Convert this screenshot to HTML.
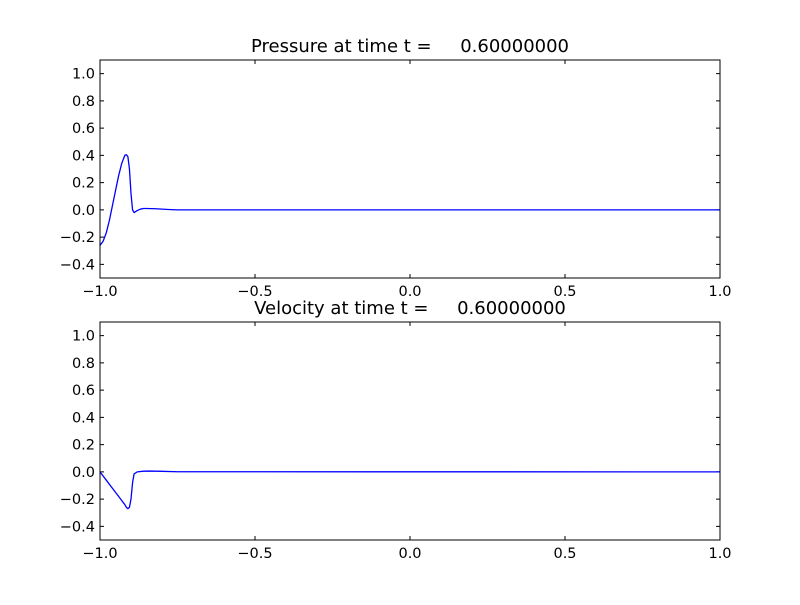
<!DOCTYPE html>
<html><head><meta charset="utf-8"><style>body{margin:0;background:#fff}svg text{font-family:"DejaVu Sans","Liberation Sans",sans-serif;white-space:pre}</style></head>
<body>
<svg id="chart" width="800" height="600" xmlns="http://www.w3.org/2000/svg"></svg>
<script>
const xTicks=[-1,-0.5,0,0.5,1];
const xTickLabels=["\u22121.0","\u22120.5","0.0","0.5","1.0"];
const yTicks=[-0.4,-0.2,0,0.2,0.4,0.6,0.8,1.0];
const yTickLabels=["\u22120.4","\u22120.2","0.0","0.2","0.4","0.6","0.8","1.0"];
const pressureX=[-1,-0.99,-0.98,-0.97,-0.96,-0.95,-0.94,-0.93,-0.92,-0.915,-0.91,-0.905,-0.9,-0.895,-0.89,-0.88,-0.87,-0.86,-0.85,-0.82,-0.78,-0.75,1];
const pressureY=[-0.26,-0.23,-0.17,-0.08,0.03,0.14,0.25,0.34,0.4,0.405,0.39,0.3,0.12,0.0,-0.02,-0.005,0.005,0.01,0.01,0.008,0.003,0,0];
const velocityX=[-1,-0.98,-0.96,-0.94,-0.93,-0.92,-0.915,-0.91,-0.905,-0.9,-0.895,-0.89,-0.88,-0.86,-0.84,-0.8,-0.75,1];
const velocityY=[0,-0.06,-0.12,-0.18,-0.21,-0.24,-0.26,-0.27,-0.26,-0.2,-0.08,-0.015,0,0.005,0.006,0.004,0.001,0];
const svg=document.getElementById('chart');
const NS='http://www.w3.org/2000/svg';
function mk(t,a,p){const e=document.createElementNS(NS,t);for(const k in a)e.setAttribute(k,a[k]);(p||svg).appendChild(e);return e;}
function panel(top,title,xs,ys,nm){
  const L=100,R=720,T=top,B=top+218;
  const sx=v=>L+(v+1)/2*(R-L);
  const sy=v=>B-(v+0.5)/1.6*(B-T);
  const g=mk('g',{});
  
  
  const t=mk('text',{x:410,y:T-8,'text-anchor':'middle','font-size':18},g);t.textContent=title;
  
  
  xTicks.forEach((v,i)=>{const x=sx(v);
    mk('line',{x1:x,x2:x,y1:B,y2:B-4,stroke:'#000'},g);mk('line',{x1:x,x2:x,y1:T,y2:T+4,stroke:'#000'},g);
    const l=mk('text',{x:x,y:B+18,'text-anchor':'middle','font-size':14.5},g);l.textContent=xTickLabels[i];
    
    });
  yTicks.forEach((v,i)=>{const y=sy(v);
    mk('line',{x1:L,x2:L+4,y1:y,y2:y,stroke:'#000'},g);mk('line',{x1:R,x2:R-4,y1:y,y2:y,stroke:'#000'},g);
    const l=mk('text',{x:L-5,y:y+5,'text-anchor':'end','font-size':14.5},g);l.textContent=yTickLabels[i];
    
    });
  const p=mk('polyline',{points:xs.map((v,i)=>sx(v)+','+sy(ys[i])).join(' '),fill:'none',stroke:'#0000ff','stroke-width':1.3,'stroke-linejoin':'round'},g);
  
  
  const r=mk('rect',{x:L,y:T,width:R-L,height:B-T,fill:'none',stroke:'#000'},g);
  
  
}
panel(60,'Pressure at time t =     0.60000000',pressureX,pressureY,'pressure');
panel(322,'Velocity at time t =     0.60000000',velocityX,velocityY,'velocity');
</script>
</body></html>
